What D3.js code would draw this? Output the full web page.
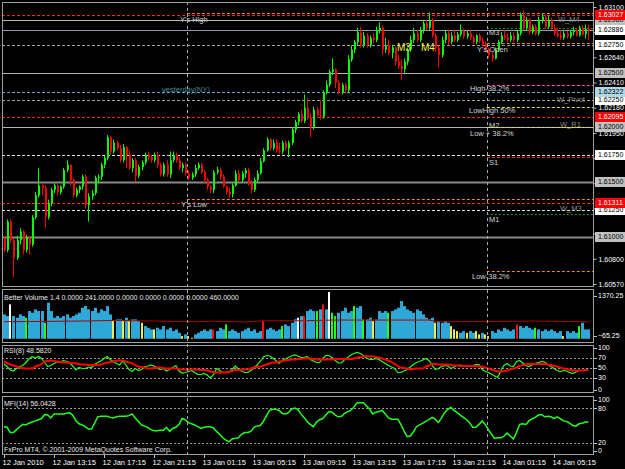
<!DOCTYPE html>
<html>
<head>
<meta charset="utf-8">
<script src="https://cdn.jsdelivr.net/npm/d3@7/dist/d3.min.js"></script>
<style>
  body { margin: 0; background: #000; }
  svg { display: block; font-family: "Liberation Sans", Arial, sans-serif; }
</style>
</head>
<body>
<div class="canvas"></div>
<script>
// GBPUSD-like M15 chart, 12 Jan 2010 09:15 -> 14 Jan 2010

const firstBar = Date.UTC(2010, 0, 12, 9, 15);
const barMs = 15 * 60 * 1000;
const firstOpen = 1.6099;

const closes = [
  1.6088,1.6114,1.6097,1.6081,1.6097,1.6105,1.6088,1.6099,1.6093,1.6118,
  1.6138,1.6147,1.6145,1.6118,1.6131,1.6143,1.6147,1.6141,1.6146,1.6161,
  1.6166,1.6152,1.6138,1.6143,1.6146,1.6155,1.6129,1.6137,1.6140,1.6154,
  1.6155,1.6166,1.6172,1.6191,1.6178,1.6186,1.6181,1.6170,1.6182,1.6175,
  1.6163,1.6170,1.6156,1.6164,1.6168,1.6175,1.6173,1.6170,1.6175,1.6166,
  1.6157,1.6166,1.6157,1.6170,1.6175,1.6170,1.6163,1.6166,1.6158,1.6154,
  1.6157,1.6163,1.6166,1.6159,1.6152,1.6146,1.6143,1.6159,1.6161,1.6155,
  1.6146,1.6141,1.6139,1.6147,1.6158,1.6152,1.6158,1.6161,1.6149,1.6143,
  1.6152,1.6158,1.6169,1.6179,1.6189,1.6181,1.6186,1.6179,1.6178,1.6186,
  1.6181,1.6186,1.6198,1.6205,1.6212,1.6206,1.6218,1.6209,1.6200,1.6216,
  1.6211,1.6210,1.6232,1.6239,1.6251,1.6253,1.6241,1.6232,1.6239,1.6234,
  1.6262,1.6271,1.6278,1.6287,1.6275,1.6284,1.6275,1.6282,1.6280,1.6289,
  1.6291,1.6271,1.6275,1.6268,1.6273,1.6260,1.6256,1.6253,1.6260,1.6271,
  1.6280,1.6286,1.6280,1.6289,1.6295,1.6291,1.6298,1.6284,1.6273,1.6266,
  1.6280,1.6286,1.6278,1.6284,1.6280,1.6285,1.6288,1.6283,1.6286,1.6282,
  1.6278,1.6284,1.6279,1.6276,1.6271,1.6266,1.6263,1.6271,1.6278,1.6284,
  1.6282,1.6280,1.6284,1.6280,1.6286,1.6303,1.6291,1.6298,1.6287,1.6292,
  1.6286,1.6298,1.6301,1.6292,1.6298,1.6291,1.6286,1.6284,1.6282,1.6286,
  1.6283,1.6287,1.6289,1.6284,1.6291,1.6285,1.6290,1.62886
];

const highs = [
  1.6101,1.6116,1.6116,1.6099,1.6101,1.6108,1.6106,1.6102,1.6101,1.6120,
  1.6141,1.6163,1.6148,1.6147,1.6134,1.6145,1.6149,1.6148,1.6147,1.6163,
  1.6170,1.6166,1.6154,1.6145,1.6147,1.6157,1.6157,1.6140,1.6143,1.6156,
  1.6157,1.6168,1.6174,1.6193,1.6192,1.6189,1.6188,1.6184,1.6185,1.6183,
  1.6179,1.6172,1.6172,1.6166,1.6170,1.6177,1.6178,1.6175,1.6177,1.6178,
  1.6168,1.6168,1.6170,1.6178,1.6178,1.6177,1.6173,1.6168,1.6168,1.6161,
  1.6159,1.6166,1.6168,1.6168,1.6161,1.6154,1.6147,1.6161,1.6164,1.6163,
  1.6157,1.6147,1.6145,1.6149,1.6161,1.6161,1.6160,1.6163,1.6163,1.6152,
  1.6154,1.6161,1.6172,1.6181,1.6191,1.6190,1.6189,1.6189,1.6186,1.6188,
  1.6188,1.6188,1.6200,1.6207,1.6214,1.6216,1.6230,1.6227,1.6213,1.6219,
  1.6219,1.6225,1.6234,1.6243,1.6253,1.6263,1.6254,1.6243,1.6241,1.6241,
  1.6266,1.6275,1.6280,1.6291,1.6292,1.6287,1.6286,1.6284,1.6286,1.6292,
  1.6296,1.6293,1.6282,1.6280,1.6275,1.6274,1.6266,1.6262,1.6263,1.6273,
  1.6284,1.6291,1.6289,1.6292,1.6298,1.6298,1.6305,1.6300,1.6286,1.6275,
  1.6283,1.6289,1.6289,1.6287,1.6289,1.6287,1.6294,1.6290,1.6288,1.6289,
  1.6284,1.6285,1.6286,1.6282,1.6278,1.6273,1.6269,1.6273,1.6280,1.6287,
  1.6289,1.6286,1.6287,1.6287,1.6289,1.6305,1.6307,1.6301,1.6300,1.6294,
  1.6294,1.6301,1.6304,1.6303,1.6302,1.6300,1.6294,1.6291,1.6289,1.6289,
  1.6288,1.6289,1.6292,1.6291,1.6293,1.6293,1.6294,1.6294
];

const lows = [
  1.6086,1.6086,1.6095,1.6063,1.6079,1.6093,1.6084,1.6086,1.6084,1.6091,
  1.6116,1.6136,1.6138,1.6109,1.6116,1.6128,1.6140,1.6138,1.6139,1.6144,
  1.6159,1.6147,1.6136,1.6136,1.6140,1.6143,1.6126,1.6114,1.6134,1.6138,
  1.6149,1.6152,1.6163,1.6170,1.6175,1.6176,1.6179,1.6168,1.6168,1.6163,
  1.6161,1.6159,1.6150,1.6154,1.6161,1.6166,1.6170,1.6168,1.6168,1.6163,
  1.6155,1.6155,1.6155,1.6154,1.6168,1.6168,1.6161,1.6159,1.6156,1.6152,
  1.6152,1.6155,1.6161,1.6157,1.6149,1.6143,1.6140,1.6140,1.6157,1.6152,
  1.6145,1.6139,1.6136,1.6136,1.6146,1.6150,1.6150,1.6154,1.6147,1.6140,
  1.6141,1.6149,1.6157,1.6168,1.6178,1.6179,1.6179,1.6177,1.6176,1.6176,
  1.6179,1.6173,1.6184,1.6195,1.6202,1.6204,1.6204,1.6207,1.6191,1.6198,
  1.6210,1.6207,1.6208,1.6230,1.6237,1.6248,1.6236,1.6230,1.6230,1.6231,
  1.6232,1.6260,1.6268,1.6275,1.6273,1.6273,1.6273,1.6273,1.6277,1.6278,
  1.6286,1.6266,1.6268,1.6266,1.6263,1.6257,1.6253,1.6243,1.6250,1.6257,
  1.6269,1.6277,1.6278,1.6278,1.6286,1.6289,1.6289,1.6282,1.6269,1.6255,
  1.6264,1.6277,1.6275,1.6276,1.6278,1.6278,1.6283,1.6281,1.6281,1.6280,
  1.6276,1.6276,1.6277,1.6274,1.6269,1.6263,1.6260,1.6262,1.6269,1.6276,
  1.6280,1.6278,1.6278,1.6278,1.6278,1.6284,1.6289,1.6289,1.6285,1.6285,
  1.6284,1.6284,1.6295,1.6290,1.6290,1.6289,1.6284,1.6282,1.6280,1.6280,
  1.6281,1.6281,1.6284,1.6283,1.6283,1.6284,1.6281,1.6280
];

// Better Volume 1.4
const volumes = [
  714,665,1007,665,616,714,665,616,812,763,
  861,812,812,469,1056,812,616,665,616,665,
  714,616,665,714,763,909,958,861,812,909,
  763,861,812,958,714,518,567,567,518,616,
  518,567,567,518,469,372,323,274,274,323,
  274,372,274,323,225,274,176,78,127,78,
  29,127,176,225,274,225,274,274,225,323,
  274,420,225,274,225,176,225,274,323,225,
  274,176,225,518,274,323,274,225,274,372,
  420,372,469,567,616,665,665,812,861,812,
  812,861,1007,861,1369,763,665,763,812,909,
  763,812,958,909,958,567,567,616,518,567,
  812,763,812,763,812,861,909,1105,958,861,
  812,763,861,812,714,616,567,616,469,518,
  469,518,469,372,274,225,176,225,176,225,
  176,225,127,176,127,78,225,176,274,225,
  323,274,225,274,420,372,323,372,323,274,
  323,274,225,274,225,274,225,176,225,78,
  225,176,225,176,372,469,274,274
];
const whiteBars = [2, 94, 104];
const redBars = [67, 83, 96, 102, 164];
const greenBars = [7, 13, 71, 89, 100, 105, 106, 112, 115, 123, 170, 184];
const yellowBars = [35, 38, 40, 44, 48, 57, 59, 60, 118, 138, 143, 144, 145, 148, 151, 152, 154, 155, 179];
const volMaBars = [0, 24, 36, 42, 62, 67, 77, 83, 96, 105, 124, 136, 139, 170, 187];
const volMa = [499, 518, 538, 528, 499, 518, 489, 528, 528, 548, 548, 548, 499, 518, 499];

// RSI(8) and its average
const rsi = [
  58,53,46,44,49,53,55,61,68,73,
  70,73,69,61,53,55,59,62,61,65,
  63,61,54,46,51,49,49,52,51,57,
  61,64,69,73,67,63,59,56,64,56,
  47,43,49,45,47,53,54,56,54,50,
  47,49,44,47,51,55,44,40,41,43,
  45,41,37,37,39,36,30,36,49,45,
  41,41,42,47,54,48,44,41,41,45,
  51,56,63,72,75,74,70,65,59,65,
  68,71,74,76,74,71,71,73,67,64,
  61,61,69,75,75,71,65,60,60,67,
  71,76,79,81,79,75,70,67,67,69,
  67,63,59,55,52,49,41,41,44,47,
  52,57,61,63,66,69,65,56,47,49,
  53,55,54,49,52,55,56,55,53,54,
  55,57,57,47,43,41,38,34,31,45,
  55,59,54,53,63,65,60,55,53,56,
  59,61,63,62,57,53,49,45,43,45,
  44,41,39,42,45,45,45,48.582
];
const rsiMa = [
  63,60,57,55,53,51,50,49,49,49,
  53,55,58,63,64,65,64,63,62,61,
  61,60,60,59,58,57,57,56,56,56,
  56,57,59,61,62,63,65,65,65,63,
  61,59,56,53,52,51,49,49,50,51,
  51,50,49,49,49,49,48,47,47,47,
  47,47,47,46,46,45,43,42,41,41,
  41,41,42,44,46,46,47,47,47,49,
  51,52,53,55,57,59,61,61,63,64,
  65,66,67,67,68,68,69,69,69,68,
  67,67,67,67,67,67,68,68,68,68,
  68,68,69,71,72,73,74,73,73,72,
  71,69,67,65,62,58,54,51,50,49,
  47,48,49,49,49,53,55,58,58,57,
  57,57,57,56,55,55,54,54,54,54,
  54,54,53,53,51,49,47,45,43,43,
  44,45,47,49,51,54,56,57,58,58,
  58,58,58,58,57,56,54,53,51,49,
  48,47,45,45,45,45,46,46
];

// MFI(14)
const mfi = [
  48,47,38,38,43,48,52,51,54,56,
  58,60,62,69,68,63,70,70,70,70,
  71,72,68,58,53,51,48,44,44,54,
  65,66,66,66,64,63,65,66,66,66,
  67,70,63,57,51,49,47,43,41,41,
  42,42,47,40,45,47,52,62,60,55,
  53,51,48,45,47,48,48,46,40,35,
  29,25,22,27,28,29,35,38,38,40,
  47,49,50,57,67,76,78,78,76,71,
  70,72,78,80,78,70,64,57,52,48,
  56,60,62,68,74,73,68,65,66,71,
  74,76,82,89,89,89,84,78,70,73,
  74,76,70,63,61,61,61,52,41,31,
  32,39,48,51,54,57,60,64,61,55,
  63,72,78,81,76,72,68,64,60,55,
  47,47,52,58,52,43,35,28,29,29,
  32,37,32,27,38,52,53,52,58,62,
  64,68,69,65,66,65,62,65,62,58,
  57,54,50,49,53,54,56,56.0428
];

// axis texts
const timeLabels = ["12 Jan 2010","12 Jan 13:15","12 Jan 17:15","12 Jan 21:15","13 Jan 01:15","13 Jan 05:15",
                    "13 Jan 09:15","13 Jan 13:15","13 Jan 17:15","13 Jan 21:15","14 Jan 01:15","14 Jan 05:15"];
const priceTicks = [1.6310, 1.6287, 1.6264, 1.6241, 1.6218, 1.6195, 1.6172, 1.6149, 1.6126, 1.6103, 1.6080, 1.6057];
const daySeparators = [Date.UTC(2010, 0, 13), Date.UTC(2010, 0, 14)];

// pivot / level lines
const fullLevels = [1.63027, 1.62980, 1.62886, 1.62750, 1.62500, 1.62322, 1.62250, 1.62095, 1.62000, 1.61750, 1.61500, 1.61311, 1.61250, 1.61000];
const fullKinds  = ["red", "silver", "bid", "grey", "silver", "blue", "grey", "red", "silver", "white", "dark", "red", "white", "dark"];
const yesterdayLevels = [1.63045, 1.61347];
const todayLevels = [1.62908, 1.62771, 1.62388, 1.62187, 1.62004, 1.61730, 1.61210, 1.60689];
const todayKinds  = ["green", "orange", "pink", "yellow", "yellow", "red", "green", "orange"];

// price tags on the right scale
const tagPrices = [1.62980, 1.62500, 1.62000, 1.61500, 1.61000, 1.62886, 1.62750, 1.62250, 1.61750, 1.61250, 1.62322, 1.63027, 1.62095, 1.61311];
const tagKinds  = ["silver", "silver", "silver", "silver", "silver", "white", "white", "white", "white", "white", "blue", "red", "red", "red"];

// text objects on the chart: [text, x, price, kind]
const chartNotes = [
  ["Y's High", 180, 1.62990, "plain"],
  ["yesterday(NY)", 162, 1.62350, "teal"],
  ["Y's Low", 181, 1.61300, "plain"],
  ["M3", 397, 1.62726, "big"],
  ["M4", 421, 1.62726, "big"],
  ["M3", 489, 1.62870, "plain"],
  ["Y's Open", 477, 1.62716, "plain"],
  ["High-38.2%", 470, 1.62360, "plain"],
  ["LowHigh 50%", 469, 1.62160, "plain"],
  ["M2", 489, 1.62020, "plain"],
  ["Low + 38.2%", 470, 1.61950, "plain"],
  ["S1", 489, 1.61685, "plain"],
  ["M1", 489, 1.61164, "plain"],
  ["Low-38.2%", 472, 1.60644, "plain"],
  ["W_M4", 558, 1.62985, "dim"],
  ["W_Pivot", 557, 1.62260, "dim"],
  ["W_R1", 560, 1.62031, "dim"],
  ["W_M3", 560, 1.61264, "dim"]
];

// ---------------------------------------------------------------

const width = 625, height = 469;
const left = 2, right = 594;
const panels = {
  main: { top: 2, bottom: 287 },
  vol:  { top: 289, bottom: 343 },
  rsi:  { top: 345, bottom: 393 },
  mfi:  { top: 396, bottom: 455 }
};

const lineStyles = {
  red:    { stroke: "#ff2424", dash: "3,2", w: 1 },
  silver: { stroke: "#b4b4b4", dash: null,  w: 1 },
  bid:    { stroke: "#9a94b6", dash: null,  w: 1 },
  grey:   { stroke: "#a4a4a4", dash: "3,2", w: 1 },
  blue:   { stroke: "#6fa6d6", dash: "3,2", w: 1 },
  white:  { stroke: "#e4e4e4", dash: "3,2", w: 1 },
  dark:   { stroke: "#8a8a8a", dash: null,  w: 2 },
  orange: { stroke: "#e88e00", dash: "3,2", w: 1 },
  green:  { stroke: "#109a10", dash: "2,2", w: 1 },
  yellow: { stroke: "#e6e600", dash: "3,2", w: 1 },
  pink:   { stroke: "#ff4cc4", dash: "3,2", w: 1 }
};
const tagStyles = {
  silver: { fill: "#c0c0c0", text: "#000" },
  white:  { fill: "#ffffff", text: "#000" },
  blue:   { fill: "#add8e6", text: "#000" },
  red:    { fill: "#ff0000", text: "#fff" }
};
const noteStyles = {
  plain: { fill: "#d4d4d4", size: 7.5 },
  teal:  { fill: "#3f8f96", size: 7.5 },
  big:   { fill: "#f0f040", size: 10 },
  dim:   { fill: "#8c8c8c", size: 7.5 }
};

const times = closes.map((d, i) => new Date(firstBar + i * barMs));
const opens = closes.map((d, i) => i === 0 ? firstOpen : closes[i - 1]);
const barStep = 3.125;

// Set up scales

const x = d3.scaleTime()
    .domain([times[0], times[times.length - 1]])
    .range([4, 4 + barStep * (times.length - 1)]);

const yPrice = d3.scaleLinear().domain([1.6057, 1.6310]).range([284, 7]);
const yVol = d3.scaleLinear().domain([-65.25, 1370.25]).range([341, 292]);
const yRsi = d3.scaleLinear().domain([0, 100]).range([393, 343]);
const yMfi = d3.scaleLinear().domain([0, 100]).range([454.7, 396.4]);

const crisp = v => Math.round(v) + 0.5;

const svg = d3.select(".canvas")
  .append("svg")
    .attr("width", width)
    .attr("height", height);

svg.append("rect").attr("width", width).attr("height", height).attr("fill", "#000");

// clip paths per panel
Object.entries(panels).forEach(([k, p]) => {
  svg.append("clipPath").attr("id", "clip-" + k)
    .append("rect")
      .attr("x", left).attr("y", p.top)
      .attr("width", right - left).attr("height", p.bottom - p.top);
});

const main = svg.append("g").attr("clip-path", "url(#clip-main)");

// Full width level lines

main.selectAll(".lvl")
  .data(fullLevels)
  .join("line")
    .attr("x1", left).attr("x2", right)
    .attr("y1", d => crisp(yPrice(d))).attr("y2", d => crisp(yPrice(d)))
    .attr("stroke", (d, i) => lineStyles[fullKinds[i]].stroke)
    .attr("stroke-width", (d, i) => lineStyles[fullKinds[i]].w)
    .attr("stroke-dasharray", (d, i) => lineStyles[fullKinds[i]].dash);

// Yesterday's levels, drawn from the day separator

main.selectAll(".ylvl")
  .data(yesterdayLevels)
  .join("line")
    .attr("x1", x(daySeparators[0]) - barStep / 2).attr("x2", right)
    .attr("y1", d => crisp(yPrice(d))).attr("y2", d => crisp(yPrice(d)))
    .attr("stroke", lineStyles.orange.stroke)
    .attr("stroke-dasharray", lineStyles.orange.dash);

// Today's pivot levels

main.selectAll(".tlvl")
  .data(todayLevels)
  .join("line")
    .attr("x1", x(daySeparators[1]) - barStep / 2).attr("x2", right)
    .attr("y1", d => crisp(yPrice(d))).attr("y2", d => crisp(yPrice(d)))
    .attr("stroke", (d, i) => lineStyles[todayKinds[i]].stroke)
    .attr("stroke-dasharray", (d, i) => lineStyles[todayKinds[i]].dash);

// Candles

const bars = times.map((t, i) => ({ t, o: opens[i], h: highs[i], l: lows[i], c: closes[i] }));
const candleColor = d => d.c >= d.o ? "#00ff00" : "#ff0000";

main.selectAll(".wick")
  .data(bars)
  .join("line")
    .attr("x1", d => crisp(x(d.t))).attr("x2", d => crisp(x(d.t)))
    .attr("y1", d => yPrice(d.h)).attr("y2", d => yPrice(d.l))
    .attr("stroke", candleColor)
    .attr("stroke-width", 1);

main.selectAll(".body")
  .data(bars)
  .join("rect")
    .attr("x", d => Math.round(x(d.t)))
    .attr("width", 2)
    .attr("y", d => yPrice(Math.max(d.o, d.c)))
    .attr("height", d => Math.max(1, Math.abs(yPrice(d.o) - yPrice(d.c))))
    .attr("fill", candleColor);

// Chart notes

svg.append("g").attr("clip-path", "url(#clip-main)")
  .selectAll("text")
  .data(chartNotes)
  .join("text")
    .attr("x", d => d[1])
    .attr("y", d => yPrice(d[2]))
    .attr("dy", "0.35em")
    .style("font-size", d => noteStyles[d[3]].size + "px")
    .attr("fill", d => noteStyles[d[3]].fill)
    .text(d => d[0]);

// Volume panel

const volColor = i => whiteBars.includes(i) ? "#ffffff"
  : redBars.includes(i) ? "#ff1010"
  : greenBars.includes(i) ? "#20ff20"
  : yellowBars.includes(i) ? "#ecec50" : "#2ea8d6";

const volG = svg.append("g").attr("clip-path", "url(#clip-vol)");

volG.selectAll("rect")
  .data(volumes)
  .join("rect")
    .attr("x", (d, i) => Math.round(x(times[i])) - 1)
    .attr("width", (d, i) => volColor(i) === "#2ea8d6" ? 3 : 2)
    .attr("y", d => yVol(d))
    .attr("height", d => yVol(0) - yVol(d))
    .attr("fill", (d, i) => volColor(i));

volG.append("path")
  .datum(volMaBars)
  .attr("fill", "none")
  .attr("stroke", "#b00000")
  .attr("stroke-width", 1)
  .attr("d", d3.line().x(i => x(times[i])).y((i, k) => yVol(volMa[k])));

// RSI panel

const rsiG = svg.append("g").attr("clip-path", "url(#clip-rsi)");

rsiG.selectAll("line")
  .data([70, 50, 30])
  .join("line")
    .attr("x1", left).attr("x2", right)
    .attr("y1", d => crisp(yRsi(d))).attr("y2", d => crisp(yRsi(d)))
    .attr("stroke", "#9a9a9a")
    .attr("stroke-dasharray", "2,2");

rsiG.append("path")
  .datum(rsi)
  .attr("fill", "none")
  .attr("stroke", "#20ff20")
  .attr("stroke-width", 1.2)
  .attr("d", d3.line().x((d, i) => x(times[i])).y(d => yRsi(d)));

rsiG.append("path")
  .datum(rsiMa)
  .attr("fill", "none")
  .attr("stroke", "#ff0000")
  .attr("stroke-width", 2)
  .attr("d", d3.line().x((d, i) => x(times[i])).y(d => yRsi(d)).curve(d3.curveMonotoneX));

// MFI panel

const mfiG = svg.append("g").attr("clip-path", "url(#clip-mfi)");

mfiG.selectAll("line")
  .data([80, 20])
  .join("line")
    .attr("x1", left).attr("x2", right)
    .attr("y1", d => crisp(yMfi(d))).attr("y2", d => crisp(yMfi(d)))
    .attr("stroke", "#9a9a9a")
    .attr("stroke-dasharray", "2,2");

mfiG.append("path")
  .datum(mfi)
  .attr("fill", "none")
  .attr("stroke", "#20ff20")
  .attr("stroke-width", 1.5)
  .attr("d", d3.line().x((d, i) => x(times[i])).y(d => yMfi(d)));

// Day separators through all panels

svg.selectAll(".sep")
  .data(daySeparators)
  .join("line")
    .attr("x1", d => crisp(x(d) - barStep / 2)).attr("x2", d => crisp(x(d) - barStep / 2))
    .attr("y1", panels.main.top).attr("y2", panels.mfi.bottom)
    .attr("stroke", "#a8a8a8")
    .attr("stroke-dasharray", "3,3");

// Panel frames

Object.values(panels).forEach(p => {
  svg.append("rect")
    .attr("x", left + 0.5).attr("y", p.top + 0.5)
    .attr("width", right - left - 1).attr("height", p.bottom - p.top - 1)
    .attr("fill", "none")
    .attr("stroke", "#a0a0a0");
});

// Right price axis: scale labels hidden where a price tag sits on top of them

const coveredByTag = d => tagPrices.some(t => Math.abs(yPrice(t) - yPrice(d)) < 5);

const priceAxis = svg.append("g")
  .attr("transform", `translate(${right - 0.5},0)`)
  .style("font-size", "7px")
  .call(d3.axisRight(yPrice)
    .tickValues(priceTicks)
    .tickFormat(d => coveredByTag(d) ? "" : d3.format(".5f")(d))
    .tickSize(3)
    .tickPadding(2));
priceAxis.select(".domain").remove();
priceAxis.selectAll(".tick line").attr("stroke", "#c0c0c0");
priceAxis.selectAll(".tick text").attr("fill", "#fff").style("font-family", "Liberation Sans");

// price tags

const tags = svg.append("g").selectAll("g")
  .data(tagPrices)
  .join("g")
    .attr("transform", d => `translate(595,${Math.round(yPrice(d))})`);
tags.append("rect")
  .attr("x", 0).attr("y", -5)
  .attr("width", 30).attr("height", 10)
  .attr("fill", (d, i) => tagStyles[tagKinds[i]].fill);
tags.append("text")
  .attr("x", 3).attr("dy", "0.35em")
  .style("font-size", "7px")
  .attr("fill", (d, i) => tagStyles[tagKinds[i]].text)
  .text(d => d3.format(".5f")(d));

// indicator scale labels

function sideLabels(values, scale, p, pad, fmt) {
  const pos = d => Math.min(p.bottom - pad, Math.max(p.top + pad, scale(d)));
  const g = svg.append("g");
  g.selectAll("text")
    .data(values)
    .join("text")
      .attr("x", 598)
      .attr("y", pos)
      .attr("dy", "0.35em")
      .style("font-size", "7px")
      .attr("fill", "#fff")
      .text(fmt);
  g.selectAll("line")
    .data(values)
    .join("line")
      .attr("x1", right).attr("x2", right + 3)
      .attr("y1", d => crisp(pos(d))).attr("y2", d => crisp(pos(d)))
      .attr("stroke", "#c0c0c0");
}
sideLabels([1370.25, -65.25], yVol, panels.vol, 7, d3.format(".2f"));
sideLabels([100, 70, 50, 30, 0], yRsi, panels.rsi, 3, d => d);
sideLabels([100, 80, 20, 0], yMfi, panels.mfi, 4, d => d);

// indicator titles

const titles = [
  ["Better Volume 1.4 0.0000 241.0000 0.0000 0.0000 0.0000 0.0000 460.0000", panels.vol.top + 9],
  ["RSI(8) " + d3.format(".4f")(rsi[rsi.length - 1]), panels.rsi.top + 6],
  ["MFI(14) " + d3.format(".4f")(mfi[mfi.length - 1]), panels.mfi.top + 8],
  ["FxPro MT4, \u00a9 2001-2009 MetaQuotes Software Corp.", panels.mfi.bottom - 5]
];
svg.append("g").selectAll("text")
  .data(titles)
  .join("text")
    .attr("x", 4)
    .attr("y", d => d[1])
    .attr("dy", "0.35em")
    .style("font-size", "7px")
    .attr("fill", "#e8e8e8")
    .text(d => d[0]);

// Time axis

const tickTimes = timeLabels.map((d, i) => times[i * 16]);
const timeAxis = svg.append("g")
  .attr("transform", `translate(0,${panels.mfi.bottom})`)
  .style("font-size", "7.5px")
  .call(d3.axisBottom(x)
    .tickValues(tickTimes)
    .tickFormat((d, i) => timeLabels[i])
    .tickSize(3)
    .tickPadding(2));
timeAxis.select(".domain").remove();
timeAxis.selectAll(".tick line").attr("stroke", "#c0c0c0");
timeAxis.selectAll(".tick text")
  .attr("fill", "#fff")
  .attr("text-anchor", "start")
  .attr("x", -2)
  .style("font-family", "Liberation Sans");
</script>
</body>
</html>
